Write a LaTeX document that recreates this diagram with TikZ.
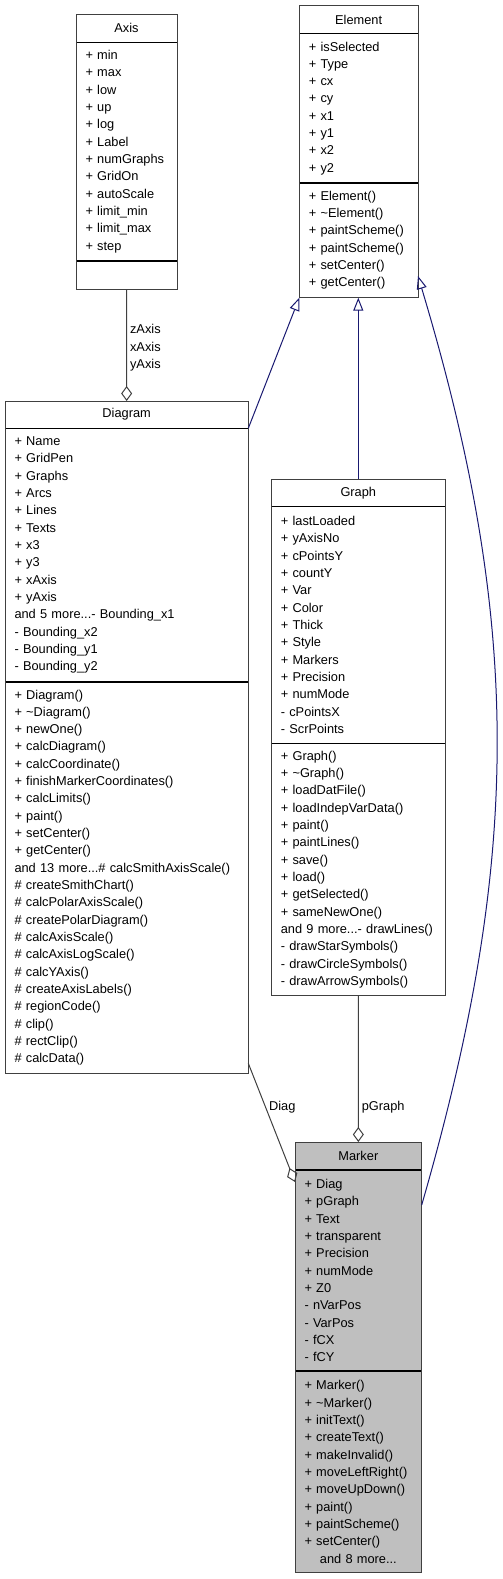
\documentclass[tikz,border=0pt]{standalone}
\usepackage{fontspec}
\setmainfont{Liberation Sans}
\usepackage{xcolor}
\usepackage{tikz}
\usetikzlibrary{arrows.meta, positioning}
\definecolor{edgegray}{HTML}{404040}
\definecolor{inhblue}{HTML}{191970}
\definecolor{markergray}{HTML}{BFBFBF}
\newcommand{\umlfont}{\fontsize{12.8pt}{17.33pt}\selectfont}
\tikzset{
  classname/.style={rectangle, draw=edgegray, fill=white, line width=1pt,
                    minimum height=28pt, inner sep=0pt, outer sep=0pt,
                    anchor=north west, font=\umlfont},
  members/.style={rectangle, draw=edgegray, fill=white, line width=1pt,
                  inner xsep=9.5pt, inner ysep=0pt, outer sep=0pt,
                  align=left, font=\umlfont},
  divider/.style={draw=black, line width=1.3pt},
  inherit/.style={-{Triangle[open, length=13pt, width=10pt]}, line width=1pt, draw=inhblue},
  aggregate/.style={{Diamond[open, length=15pt, width=11pt]}-, line width=1pt, draw=edgegray},
  role/.style={font=\umlfont, inner sep=0pt, align=center},
}

\begin{document}
\begin{tikzpicture}[x=1pt, y=-1pt]
  \useasboundingbox (0,0) rectangle (503,1579);

  \node[classname, minimum width=101pt] (axis) at (76,14.3) {Axis};
  \node[members, text width=82pt, minimum height=218.7pt, below=0pt of axis] (axisattrs)
    {+ min\\+ max\\+ low\\+ up\\+ log\\+ Label\\+ numGraphs\\+ GridOn\\+ autoScale\\
     + limit\_min\\+ limit\_max\\+ step};
  \node[members, text width=82pt, minimum height=28.3pt, below=0pt of axisattrs] (axisops) {};

  \node[classname, minimum width=118.7pt] (element) at (299.3,5.7) {Element};
  \node[members, text width=99.7pt, minimum height=149.3pt, below=0pt of element] (elementattrs)
    {+ isSelected\\+ Type\\+ cx\\+ cy\\+ x1\\+ y1\\+ x2\\+ y2};
  \node[members, text width=99.7pt, minimum height=114.7pt, below=0pt of elementattrs] (elementops)
    {+ Element()\\+ \textasciitilde Element()\\+ paintScheme()\\+ paintScheme()\\
     + setCenter()\\+ getCenter()};

  \node[classname, minimum width=243.3pt, minimum height=27.3pt] (diagram) at (5,401) {Diagram};
  \node[members, text width=224.3pt, minimum height=253.7pt, below=0pt of diagram] (diagramattrs)
    {+ Name\\+ GridPen\\+ Graphs\\+ Arcs\\+ Lines\\+ Texts\\+ x3\\+ y3\\+ xAxis\\+ yAxis\\
     and 5 more...- Bounding\_x1\\- Bounding\_x2\\- Bounding\_y1\\- Bounding\_y2};
  \node[members, text width=224.3pt, minimum height=391.3pt, below=0pt of diagramattrs] (diagramops)
    {+ Diagram()\\+ \textasciitilde Diagram()\\+ newOne()\\+ calcDiagram()\\+ calcCoordinate()\\
     + finishMarkerCoordinates()\\+ calcLimits()\\+ paint()\\+ setCenter()\\+ getCenter()\\
     and 13 more...\# calcSmithAxisScale()\\\# createSmithChart()\\\# calcPolarAxisScale()\\
     \# createPolarDiagram()\\\# calcAxisScale()\\\# calcAxisLogScale()\\\# calcYAxis()\\
     \# createAxisLabels()\\\# regionCode()\\\# clip()\\\# rectClip()\\\# calcData()};

  \node[classname, minimum width=174pt, minimum height=27pt] (graph) at (271.3,479.3) {Graph};
  \node[members, text width=155pt, minimum height=237pt, below=0pt of graph] (graphattrs)
    {+ lastLoaded\\+ yAxisNo\\+ cPointsY\\+ countY\\+ Var\\+ Color\\+ Thick\\+ Style\\
     + Markers\\+ Precision\\+ numMode\\- cPointsX\\- ScrPoints};
  \node[members, text width=155pt, minimum height=252.4pt, below=0pt of graphattrs] (graphops)
    {+ Graph()\\+ \textasciitilde Graph()\\+ loadDatFile()\\+ loadIndepVarData()\\+ paint()\\
     + paintLines()\\+ save()\\+ load()\\+ getSelected()\\+ sameNewOne()\\
     and 9 more...- drawLines()\\- drawStarSymbols()\\- drawCircleSymbols()\\- drawArrowSymbols()};

  \node[classname, minimum width=126.7pt, fill=markergray] (marker) at (295,1142) {Marker};
  \node[members, text width=107.7pt, minimum height=201pt, fill=markergray, below=0pt of marker] (markerattrs)
    {+ Diag\\+ pGraph\\+ Text\\+ transparent\\+ Precision\\+ numMode\\+ Z0\\
     - nVarPos\\- VarPos\\- fCX\\- fCY};
  \node[members, text width=107.7pt, minimum height=201.7pt, fill=markergray, below=0pt of markerattrs] (markerops)
    {+ Marker()\\+ \textasciitilde Marker()\\+ initText()\\+ createText()\\+ makeInvalid()\\
     + moveLeftRight()\\+ moveUpDown()\\+ paint()\\+ paintScheme()\\+ setCenter()\\
     \makebox[\linewidth]{and 8 more...}};

  \foreach \part in {axisattrs, axisops, elementattrs, elementops, diagramattrs, diagramops,
                     graphattrs, graphops, markerattrs, markerops}
    \draw[divider] ([xshift=0.5pt]\part.north west) -- ([xshift=-0.5pt]\part.north east);

  \draw[inherit] (diagram.south east) -- (elementops.south west);
  \draw[inherit] (graph.north) -- (graph.north |- elementops.south);
  \draw[inherit] ([yshift=-35pt]markerattrs.north east) .. controls +(100,-346) and +(105,350)
    .. ([yshift=21.7pt]elementops.south east);

  \draw[aggregate] (diagram.north) -- (axisops.south)
    node[role, pos=0.475, right=3pt] {zAxis\\xAxis\\yAxis};
  \draw[aggregate] (marker.north) -- (graphops.south)
    node[role, pos=0.24, right=3pt] {pGraph};
  \draw[aggregate] ([yshift=-12pt]markerattrs.north west) -- ([yshift=10pt]diagramops.south east)
    node[role, pos=0.63, right=3pt] {Diag};
\end{tikzpicture}
\end{document}
